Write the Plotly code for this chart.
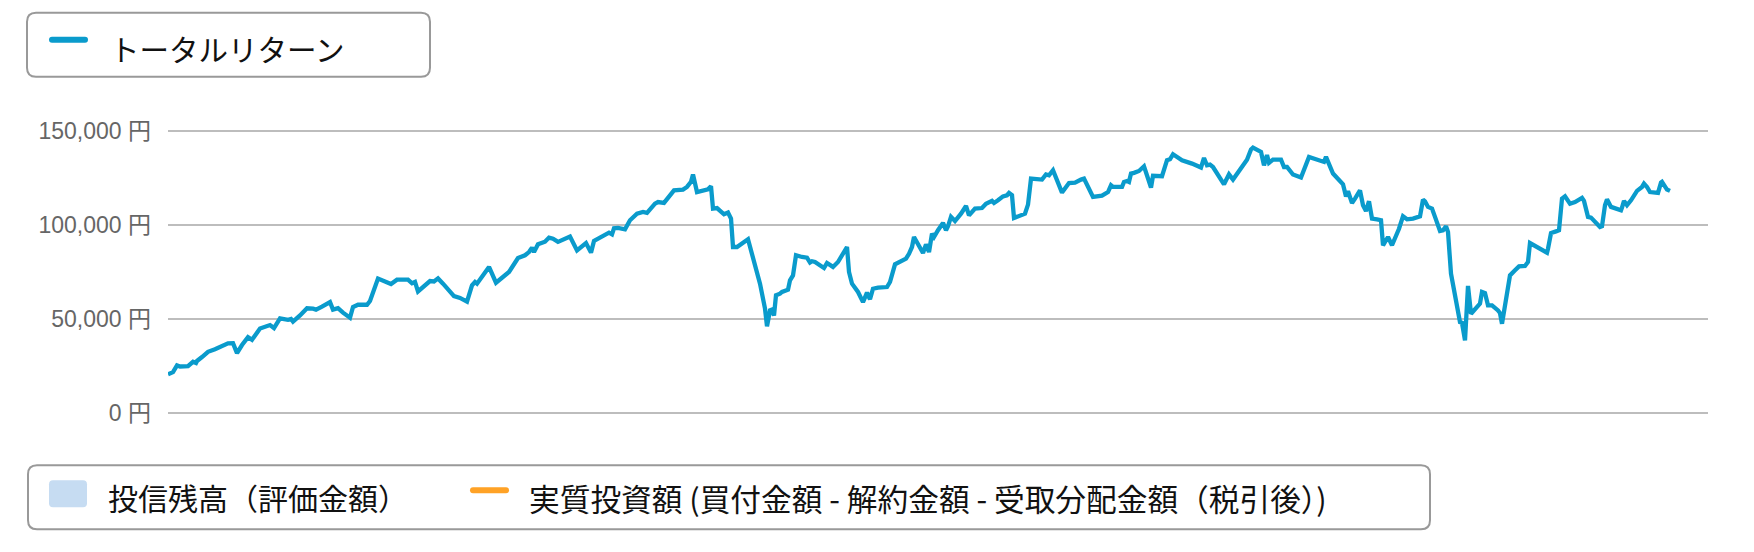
import pandas as pd
import plotly.graph_objects as go

# ---- data (day offset from start, total return in yen) ----
start_date = "2016-06-01"
days = [0, 5, 9, 12, 20, 25, 28, 29, 34, 40, 47, 52, 60, 65, 69, 74, 80, 84, 92, 102,
        106, 112, 120, 123, 125, 132, 139, 145, 148, 154, 162, 165, 170, 175, 182, 185, 190, 199, 202, 210,
        217, 223, 229, 240, 244, 247, 250, 257, 262, 266, 270, 275, 280, 286, 292, 299, 304, 307,
        309, 321, 328, 341, 350, 357, 361, 364, 366, 370, 377, 381, 385, 390, 402, 409, 418, 423, 426, 430,
        439, 441, 444, 446, 450, 457, 462, 469, 475, 479, 487, 490, 496, 500, 506, 515, 519, 523, 525, 529,
        540, 543, 545, 549, 556, 560, 563, 565, 569, 580, 582, 585, 592, 597, 599, 602, 604, 606, 608, 612,
        614, 620, 622, 625, 628, 634, 639, 642, 644, 647, 652, 656, 659, 662, 665, 670, 679, 681, 684, 690,
        695, 699, 702, 705, 710, 719, 722, 727, 733, 738, 741, 744, 746, 751, 755, 758, 761, 764, 766, 770,
        775, 778, 780, 783, 787, 793, 798, 801, 807, 814, 818, 824, 826, 830, 835, 839, 841, 844, 846, 857,
        860, 863, 874, 878, 881, 885, 894, 901, 907, 913,
        916, 925, 934, 940, 943, 945, 954, 956, 959, 961, 963, 966, 971, 976, 983, 985, 994, 999, 1002, 1005,
        1014, 1024, 1033, 1036, 1039, 1042, 1045, 1056, 1061, 1065, 1070, 1076, 1079, 1083, 1085, 1093, 1096,
        1099, 1101, 1105, 1113, 1116, 1119, 1125, 1133, 1141, 1152, 1156, 1158, 1165, 1175, 1178, 1180, 1184,
        1187, 1192, 1195, 1198, 1201, 1204, 1209, 1213, 1215, 1220, 1224,
        1231, 1235, 1239, 1245, 1252, 1255, 1257, 1260, 1264, 1267, 1272, 1275, 1278, 1280, 1283, 1292, 1294,
        1297, 1300, 1303, 1308, 1312, 1314, 1317, 1320, 1324, 1330, 1332, 1334, 1338, 1342, 1347, 1351, 1357,
        1360, 1362, 1379, 1380, 1383, 1388, 1391, 1394, 1397, 1402, 1407, 1414, 1416, 1420, 1423, 1432, 1434,
        1437, 1439, 1443, 1453, 1454, 1456, 1459, 1463, 1469, 1472, 1474, 1476, 1479, 1482, 1490, 1493, 1494,
        1499, 1502]
total_return = [20600, 21800, 25400, 24800, 25000, 27300, 26600, 27700, 29800, 32600, 34000, 35300, 37100, 37200, 31900, 36200, 40400, 39000, 45000, 46800,
                45200, 50400, 49600, 50000, 48600, 51900, 55700, 55500, 55000, 56600, 59000, 55000, 55800, 53400, 50700, 56400, 57600, 57600, 59600, 71500,
                69900, 68600, 70900, 70900, 69000, 69700, 64700, 67700, 70200, 70000, 71600, 68800, 66000, 62200, 61200, 59200, 67900, 69700,
                68800, 77700, 69300, 75000, 82400, 83900, 85600, 87900, 85600, 89700, 91100, 93300, 92700, 91000, 93800, 86500, 90400, 85300, 91500, 92700,
                94900, 95900, 95000, 98200, 98400, 97700, 102500, 106000, 106900, 106400, 111300, 112200, 111700, 114500, 118400, 118800, 120200, 122900, 126800, 117500,
                119000, 120600, 108700, 109000, 105700, 106600, 103400, 88300, 88300, 92400, 88300, 84200, 68800, 55500, 46100, 54600, 55000, 51900, 62600, 63500,
                64400, 65600, 70600, 73200, 83900, 83000, 82600, 80000, 80700, 80300, 78500, 77100, 79800, 78900, 77700, 80300, 88300, 75000, 68800, 64400,
                59000, 64000, 60500, 66100, 66700, 67000, 69700, 79100, 80700, 82100, 84700, 88300, 93600, 89200, 85100, 89700, 85600, 95400, 93600, 97200,
                101100, 97200, 99300, 104300, 102100, 106000, 110100, 105100, 108700, 109000, 111300, 112800, 111700, 113100, 115200, 115800, 117000, 115800, 103700, 106000,
                110800, 124600, 124100, 126800, 126400, 129100, 117200, 122300, 122500, 124100,
                124600, 114900, 115600, 117500, 121100, 120200, 120200, 122900, 123400, 122900, 127300, 127700, 128700, 131200, 119900, 126100, 125900, 134400, 134900, 137600,
                134400, 132600, 130500, 135600, 131700, 132100, 130800, 121600, 126900, 124100, 128200, 132300, 134700, 140100, 141100, 138800, 131700,
                137100, 133000, 134700, 134700, 130800, 130800, 126800, 125200, 136200, 133900, 133500, 136200, 127300, 121600, 115200, 117900, 111700,
                114000, 118400, 110500, 107400, 112600, 103400, 103000, 102500, 89200, 93600, 89200,
                98000, 104600, 103000, 103400, 104600, 113500, 112600, 109600, 108700, 104300, 96800, 97200, 99300, 96300, 74100, 48400, 48000,
                38700, 67600, 52800, 55500, 58200, 64400, 63800, 57300, 57300, 54600, 53200, 47500, 60800, 73200, 75900, 78000, 78200,
                80300, 90400, 85300, 87400, 95700, 96600, 97200, 114000, 115200, 111300, 112200, 114400, 112800, 104300, 103900, 98900, 99300,
                110500, 113600, 109600, 107800, 109200, 112800, 110500, 113100, 118100, 119300, 120200, 122000, 120200, 117500, 117000, 122500, 122900,
                118800, 118100]
axis_end_day = 1540
ytick_values = [0, 50000, 100000, 150000]
ytick_labels = ["0 円", "50,000 円", "100,000 円", "150,000 円"]
series_main = "トータルリターン"
series_value = "投信残高（評価金額）"
series_invest = "実質投資額 (買付金額 - 解約金額 - 受取分配金額（税引後）)"

# ---- figure geometry (page pixels; the page body has an 8px default margin) ----
PAGE_OFF = 8
W, H = 1754 - PAGE_OFF, 552 - PAGE_OFF
Y_PAD = 1000  # small padding so the 0 / 150,000 gridlines are not on the edge
PLOT_LEFT, PLOT_RIGHT = 168, 1708
PX_PER_YEN = 282 / 150000
PLOT_TOP = 131 - Y_PAD * PX_PER_YEN
PLOT_BOTTOM = 413 + Y_PAD * PX_PER_YEN
L = PLOT_LEFT - PAGE_OFF
R = W - (PLOT_RIGHT - PAGE_OFF)
T = PLOT_TOP - PAGE_OFF
B = H - (PLOT_BOTTOM - PAGE_OFF)
PW, PH = W - L - R, H - T - B
LINE_COLOR = "#0a9bcc"
ORANGE = "#ffa226"
CJK = "Noto Sans CJK JP"

base = pd.Timestamp(start_date)
x_dates = [base + pd.Timedelta(days=d) for d in days]

fig = go.Figure()
fig.add_trace(go.Scatter(x=x_dates, y=total_return, mode="lines", name=series_main,
                         line=dict(color=LINE_COLOR, width=4.3, shape="linear"),
                         showlegend=False, hoverinfo="skip"))


def px_x(x):  # page px -> paper
    return (x - PLOT_LEFT) / PW


def px_y(y):
    return (PLOT_BOTTOM - y) / PH


def rounded_rect(x0, y0, x1, y1, r):
    X0, X1 = px_x(x0), px_x(x1)
    Y0, Y1 = px_y(y0), px_y(y1)
    rx, ry = r / PW, r / PH
    return (f"M {X0+rx},{Y0} L {X1-rx},{Y0} Q {X1},{Y0} {X1},{Y0-ry} "
            f"L {X1},{Y1+ry} Q {X1},{Y1} {X1-rx},{Y1} L {X0+rx},{Y1} "
            f"Q {X0},{Y1} {X0},{Y1+ry} L {X0},{Y0-ry} Q {X0},{Y0} {X0+rx},{Y0} Z")


shapes = [
    dict(type="path", xref="paper", yref="paper", path=rounded_rect(27, 13, 430, 77, 9),
         line=dict(color="#999999", width=2), fillcolor="rgba(255,255,255,0)", layer="above"),
    dict(type="path", xref="paper", yref="paper", path=rounded_rect(49, 37, 88, 43, 3),
         line=dict(width=0), fillcolor=LINE_COLOR, layer="above"),
    dict(type="path", xref="paper", yref="paper", path=rounded_rect(28, 465, 1430, 529, 9),
         line=dict(color="#999999", width=2), fillcolor="rgba(255,255,255,0)", layer="above"),
    dict(type="path", xref="paper", yref="paper", path=rounded_rect(49, 480, 87, 507, 4),
         line=dict(width=0), fillcolor="#c6dcf2", layer="above"),
    dict(type="path", xref="paper", yref="paper", path=rounded_rect(470, 487, 509, 493, 3),
         line=dict(width=0), fillcolor=ORANGE, layer="above"),
]

annotations = [
    dict(text=series_main, x=px_x(108), y=px_y(48), xref="paper", yref="paper",
         xanchor="left", yanchor="middle", showarrow=False,
         font=dict(family=CJK, size=29.5, color="#111111")),
    dict(text=series_value, x=px_x(106), y=px_y(497), xref="paper", yref="paper",
         xanchor="left", yanchor="middle", showarrow=False,
         font=dict(family=CJK, size=30, color="#111111")),
    dict(text=series_invest, x=px_x(527), y=px_y(497), xref="paper", yref="paper",
         xanchor="left", yanchor="middle", showarrow=False,
         font=dict(family=CJK, size=30.7, color="#111111")),
]

fig.update_layout(
    width=W, height=H,
    margin=dict(l=L, r=R, t=T, b=B, autoexpand=False, pad=0),
    paper_bgcolor="white", plot_bgcolor="white",
    showlegend=False,
    shapes=shapes, annotations=annotations,
    xaxis=dict(range=[base, base + pd.Timedelta(days=axis_end_day)], showgrid=False,
               showticklabels=False, zeroline=False, showline=False, ticks=""),
    yaxis=dict(range=[-Y_PAD, 150000 + Y_PAD], tickvals=ytick_values, ticktext=ytick_labels,
               showgrid=True, gridcolor="#bdbdbd", gridwidth=2, zeroline=False, showline=False,
               ticks="", ticklabelstandoff=16,
               tickfont=dict(family="Liberation Sans, " + CJK, size=23, color="#666666")),
)

fig.write_html("out.html")
